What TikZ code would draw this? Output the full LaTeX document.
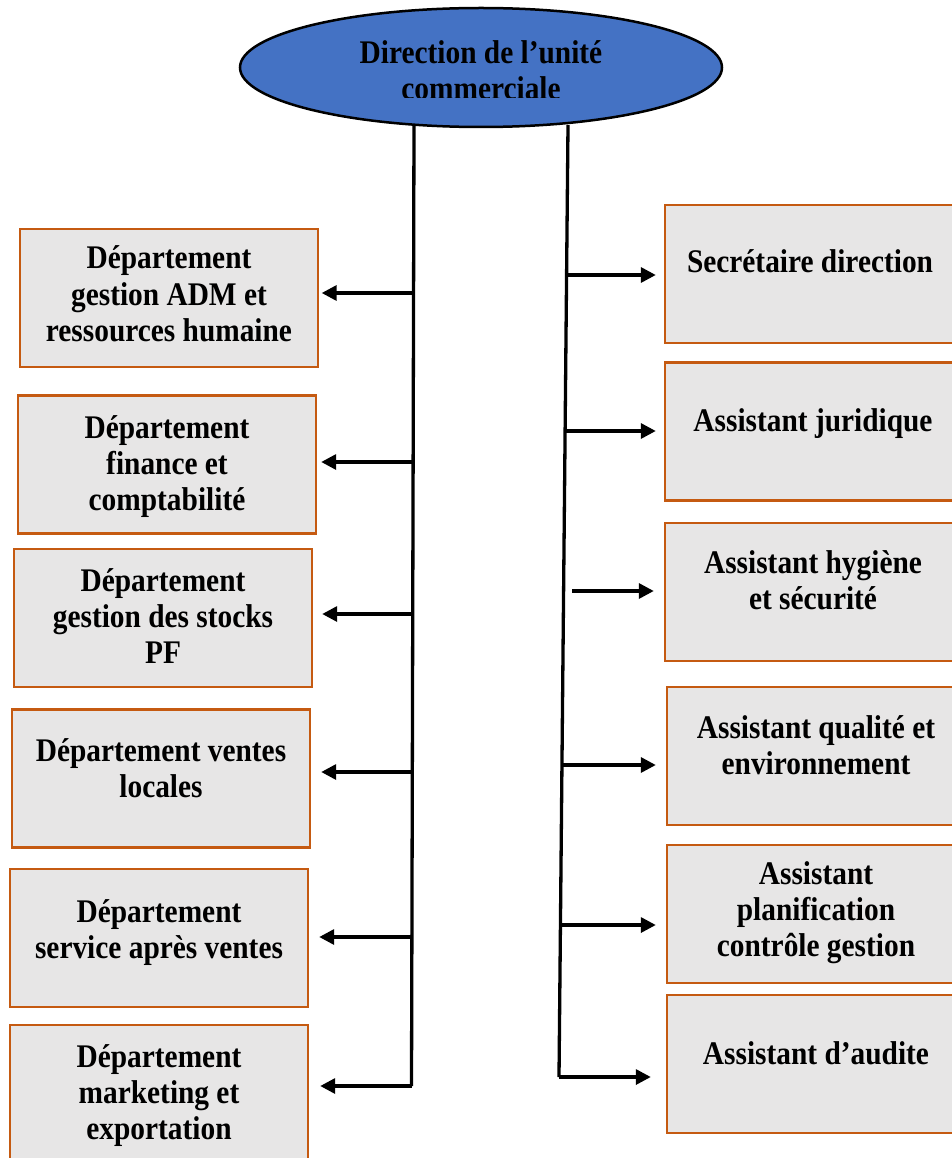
\documentclass[tikz,border=0pt]{standalone}
\usepackage{fontspec}
\setmainfont{Liberation Serif}[FakeStretch=0.89]
\usetikzlibrary{shapes.geometric,arrows.meta}
\definecolor{headblue}{RGB}{68,114,196}
\definecolor{boxedge}{RGB}{197,90,17}
\definecolor{boxfill}{RGB}{231,230,230}
% centred block of lines whose baseline is the first line
\newcommand{\stack}[1]{\begin{tabular}[t]{@{}c@{}}#1\end{tabular}}

\begin{document}
\begin{tikzpicture}[x=1pt,y=-1pt,
  unitbox/.style={draw=boxedge, fill=boxfill, line width=2.4pt, inner sep=0pt,
    minimum width=298pt, minimum height=138pt},
  txt/.style={font=\fontsize{33}{36}\selectfont\bfseries, anchor=base, inner sep=0pt},
  trunk/.style={line width=3.3pt},
  arr/.style={line width=3.3pt, -{Triangle[length=15pt,width=15pt]}}]

\clip (0,0) rectangle (952,1158);

% head of the unit
\node[draw=black, fill=headblue, ellipse, line width=2.5pt,
      minimum width=482pt, minimum height=119pt] (head) at (481,67.5) {};
\begin{scope}
  \clip (0,0) rectangle (952,97.5);
  \node[txt] (headtext) at (481,64) {\stack{Direction de l’unité\\commerciale}};
\end{scope}

% departments (left)
\node[unitbox] (L1) at (169,298)    {};
\node[unitbox] (L2) at (167,464.5)  {};
\node[unitbox] (L3) at (163,618)    {};
\node[unitbox] (L4) at (161,778.5)  {};
\node[unitbox] (L5) at (159,938)    {};
\node[unitbox] (L6) at (159,1094)   {};

\node[txt] (L1t) at (169,269) {\stack{Département\\gestion ADM et\\ressources humaine}};
\node[txt] (L2t) at (167,438) {\stack{Département\\finance et\\comptabilité}};
\node[txt] (L3t) at (163,591) {\stack{Département\\gestion des stocks\\PF}};
\node[txt] (L4t) at (161,761) {\stack{Département ventes\\locales}};
\node[txt] (L5t) at (159,922) {\stack{Département\\service après ventes}};
\node[txt] (L6t) at (159,1067) {\stack{Département\\marketing et\\exportation}};

% assistants (right)
\node[unitbox] (R1) at (814,274)    {};
\node[unitbox] (R2) at (814,431.5)  {};
\node[unitbox] (R3) at (814,592)    {};
\node[unitbox] (R4) at (816,756)    {};
\node[unitbox] (R5) at (816,914)    {};
\node[unitbox] (R6) at (816,1064)   {};

\node[txt] (R1t) at (810,272) {\stack{Secrétaire direction}};
\node[txt] (R2t) at (813,431) {\stack{Assistant juridique}};
\node[txt] (R3t) at (813,573) {\stack{Assistant hygiène\\et sécurité}};
\node[txt] (R4t) at (816,738) {\stack{Assistant qualité et\\environnement}};
\node[txt] (R5t) at (816,884) {\stack{Assistant\\planification\\contrôle gestion}};
\node[txt] (R6t) at (816,1064) {\stack{Assistant d’audite}};

% left trunk and its branch points
\coordinate (lt) at (414,125);
\coordinate (lb) at (411.5,1086);
\coordinate (a1) at (413.6,293);
\coordinate (a2) at (413.1,462);
\coordinate (a3) at (412.7,614);
\coordinate (a4) at (412.2,772);
\coordinate (a5) at (411.8,937);
\draw[trunk] (lt) -- (lb);

% right trunk and its branch points
\coordinate (rt) at (568,125);
\coordinate (rb) at (559,1077);
\coordinate (b1) at (566.6,275);
\coordinate (b2) at (565.1,431);
\coordinate (b3) at (572,591);
\coordinate (b4) at (562,765);
\coordinate (b5) at (560.4,925);
\draw[trunk] (rt) -- (rb);

% branches to the departments
\draw[arr, shorten >=2.5pt] (a1) -- (L1.east |- a1);
\draw[arr, shorten >=4pt]   (a2) -- (L2.east |- a2);
\draw[arr, shorten >=9pt]   (a3) -- (L3.east |- a3);
\draw[arr, shorten >=10pt]  (a4) -- (L4.east |- a4);
\draw[arr, shorten >=10pt]  (a5) -- (L5.east |- a5);
\draw[arr, shorten >=11pt]  (lb) -- (L6.east |- lb);

% branches to the assistants
\draw[arr, shorten >=8pt]   (b1) -- (R1.west |- b1);
\draw[arr, shorten >=8pt]   (b2) -- (R2.west |- b2);
\draw[arr, shorten >=10pt]  (b3) -- (R3.west |- b3);
\draw[arr, shorten >=10pt]  (b4) -- (R4.west |- b4);
\draw[arr, shorten >=10pt]  (b5) -- (R5.west |- b5);
\draw[arr, shorten >=15pt]  (rb) -- (R6.west |- rb);
\end{tikzpicture}
\end{document}
